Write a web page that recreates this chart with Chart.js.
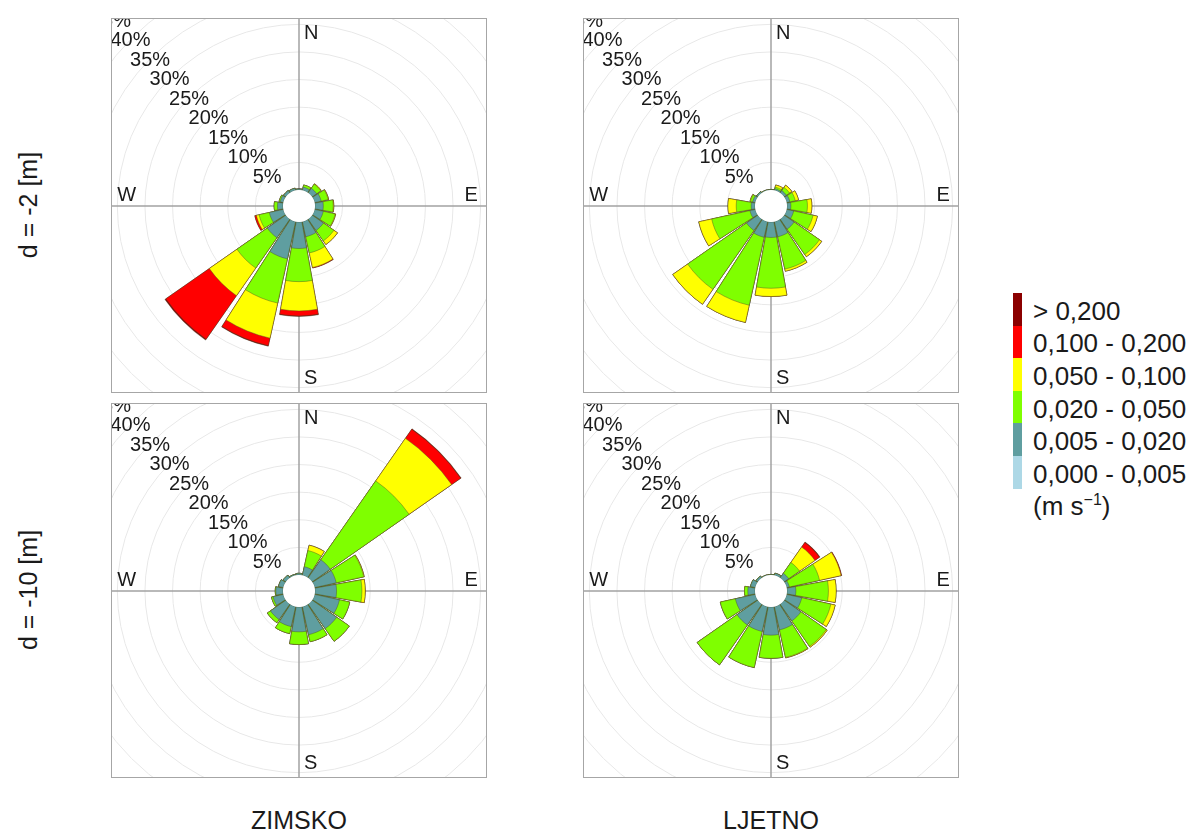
<!DOCTYPE html>
<html>
<head>
<meta charset="utf-8">
<script src="https://cdn.jsdelivr.net/npm/chart.js@4.4.1/dist/chart.umd.min.js"></script>
<style>
  body { margin: 0; background: #fff; font-family: "Liberation Sans", Arial, sans-serif; color: #1a1a1a; }
  #page { position: relative; width: 1195px; height: 837px; overflow: hidden; }
  .panel { position: absolute; width: 374px; height: 373px; border: 1px solid #a6a6a6; overflow: hidden; }
  .panel canvas { position: absolute; left: -83px; top: -83px; }
  .rowlab { position: absolute; width: 200px; height: 30px; line-height: 30px; text-align: center;
            font-size: 25px; transform: rotate(-90deg); }
  .collab { position: absolute; width: 200px; text-align: center; font-size: 25px; top: 806px; }
  #legend { position: absolute; left: 1013px; top: 293px; }
  .leg-row { display: flex; align-items: center; height: 32.6px; }
  .leg-sw { width: 9px; height: 32.6px; }
  .leg-tx { font-size: 26px; margin-left: 11px; white-space: nowrap; position: relative; top: 2px; }
  .leg-unit { font-size: 26px; margin-left: 20px; margin-top: 2px; }
  .leg-unit sup { font-size: 16px; }
</style>
</head>
<body>
<div id="page"></div>
<script>
// smjerovi (16 sektora po 22,5°)
const dirLabels = ["N", "NNE", "NE", "ENE", "E", "ESE", "SE", "SSE", "S", "SSW", "SW", "WSW", "W", "WNW", "NW", "NNW"];

// razredi brzine struje (m s-1) i boje
const speedBins = ["0,000 - 0,005", "0,005 - 0,020", "0,020 - 0,050", "0,050 - 0,100", "0,100 - 0,200", "> 0,200"];
const binColors = ["#add8e6", "#5f9ea0", "#7fff00", "#ffff00", "#ff0000", "#8b0000"];

// krugovi mreže (%)
const ringSteps = [5, 10, 15, 20, 25, 30, 35, 40, 45];

// --- ZIMSKO, d = -2 m (učestalost %, po razredu) ---
const zim2_000_005 = [0, 0, 0, 0, 0, 0, 0, 0, 0, 0, 0, 0, 0, 0, 0, 0];
const zim2_005_020 = [0.2, 0.6, 1.0, 1.2, 1.5, 1.6, 2.5, 2.8, 4.8, 6.9, 4.1, 2.6, 1.0, 0.6, 0.5, 0.4];
const zim2_020_050 = [0, 0.4, 0.9, 1.3, 1.8, 2.2, 2.3, 3.0, 6.0, 8.2, 6.7, 1.9, 0.6, 0.2, 0, 0];
const zim2_050_100 = [0, 0, 0.1, 0.1, 0.1, 0.1, 0.8, 2.7, 5.3, 6.5, 6.1, 0.5, 0, 0, 0, 0];
const zim2_100_200 = [0, 0, 0, 0, 0, 0, 0, 0.1, 0.9, 1.4, 9.6, 0.3, 0, 0, 0, 0];
const zim2_200 = [0, 0, 0, 0, 0, 0, 0, 0, 0.1, 0.1, 0.2, 0, 0, 0, 0, 0];

// --- LJETNO, d = -2 m ---
const ljet2_000_005 = [0, 0, 0, 0, 0, 0, 0, 0, 0, 0, 0, 0, 0, 0, 0, 0];
const ljet2_005_020 = [0.1, 0.3, 0.5, 0.6, 0.7, 1.3, 2.2, 2.8, 2.8, 2.9, 2.5, 1.0, 0.7, 0.5, 0.3, 0.1];
const ljet2_020_050 = [0, 0.3, 0.7, 1.0, 3.0, 3.6, 5.6, 6.0, 9.2, 12.6, 13.0, 7.1, 2.7, 0.4, 0, 0];
const ljet2_050_100 = [0, 0.4, 0.5, 0.6, 0.8, 0.8, 0.5, 0.4, 1.5, 3.2, 3.3, 2.4, 1.5, 0.1, 0, 0];
const ljet2_100_200 = [0, 0, 0, 0, 0, 0, 0, 0, 0, 0, 0, 0, 0, 0, 0, 0];
const ljet2_200 = [0, 0, 0, 0, 0, 0, 0, 0, 0, 0, 0, 0, 0, 0, 0, 0];

// --- ZIMSKO, d = -10 m ---
const zim10_000_005 = [0, 0, 0, 0, 0, 0, 0, 0, 0, 0, 0, 0, 0, 0, 0, 0];
const zim10_005_020 = [0.3, 1.6, 4.0, 4.0, 3.9, 4.6, 5.4, 5.2, 4.5, 3.7, 3.4, 1.9, 1.3, 0.9, 0.6, 0.2];
const zim10_020_050 = [0, 3.0, 17.4, 5.1, 4.6, 1.9, 2.8, 1.3, 2.3, 1.3, 0.7, 0.3, 0.1, 0, 0, 0];
const zim10_050_100 = [0, 1.0, 9.4, 0.1, 0.6, 0, 0, 0, 0, 0, 0, 0, 0, 0, 0, 0];
const zim10_100_200 = [0, 0, 2.0, 0, 0, 0, 0, 0, 0, 0, 0, 0, 0, 0, 0, 0];
const zim10_200 = [0, 0, 0.1, 0, 0, 0, 0, 0, 0, 0, 0, 0, 0, 0, 0, 0];

// --- LJETNO, d = -10 m ---
const ljet10_000_005 = [0, 0, 0, 0, 0, 0, 0, 0, 0, 0, 0, 0, 0, 0, 0, 0];
const ljet10_005_020 = [0.1, 0.4, 1.0, 0.5, 1.6, 2.8, 3.7, 4.3, 5.1, 4.6, 4.6, 3.7, 1.3, 0.9, 0.4, 0.1];
const ljet10_020_050 = [0, 0, 2.4, 5.6, 5.9, 5.4, 5.6, 5.1, 4.2, 6.7, 8.8, 2.8, 0.6, 0, 0, 0];
const ljet10_050_100 = [0, 0, 3.4, 4.0, 1.4, 0.8, 0.2, 0.1, 0, 0, 0, 0, 0, 0, 0, 0];
const ljet10_100_200 = [0, 0, 1.0, 0.1, 0, 0, 0, 0, 0, 0, 0, 0, 0, 0, 0, 0];
const ljet10_200 = [0, 0, 0.1, 0, 0, 0, 0, 0, 0, 0, 0, 0, 0, 0, 0, 0];

const panels = [
  { left: 111, top: 18, bins: [zim2_000_005, zim2_005_020, zim2_020_050, zim2_050_100, zim2_100_200, zim2_200] },
  { left: 583, top: 18, bins: [ljet2_000_005, ljet2_005_020, ljet2_020_050, ljet2_050_100, ljet2_100_200, ljet2_200] },
  { left: 111, top: 403, bins: [zim10_000_005, zim10_005_020, zim10_020_050, zim10_050_100, zim10_100_200, zim10_200] },
  { left: 583, top: 403, bins: [ljet10_000_005, ljet10_005_020, ljet10_020_050, ljet10_050_100, ljet10_100_200, ljet10_200] },
];

// ljestvica: rupa u sredini + 46 % do ruba platna
const rMin = -2.9;
const rMax = 46;
const sectorDeg = 20.25;
const gapDeg = 22.5 - sectorDeg;
const compassPct = 28.3;

const page = document.getElementById("page");

const roseDecor = {
  id: "roseDecor",
  beforeDatasetsDraw(chart) {
    const s = chart.scales.r;
    const ctx = chart.ctx;
    ctx.save();
    ctx.strokeStyle = "#a3a3a3";
    ctx.lineWidth = 1.5;
    ctx.beginPath();
    ctx.moveTo(0, s.yCenter);
    ctx.lineTo(chart.width, s.yCenter);
    ctx.moveTo(s.xCenter, 0);
    ctx.lineTo(s.xCenter, chart.height);
    ctx.stroke();
    ctx.restore();
  },
  afterDatasetsDraw(chart) {
    const s = chart.scales.r;
    const ctx = chart.ctx;
    ctx.save();
    // rupa u sredini
    ctx.fillStyle = "#fff";
    ctx.beginPath();
    ctx.arc(s.xCenter, s.yCenter, s.getDistanceFromCenterForValue(0), 0, Math.PI * 2);
    ctx.fill();
    // oznake postotaka po dijagonali
    ctx.fillStyle = "#1a1a1a";
    ctx.font = '20px "Liberation Sans", Arial, sans-serif';
    ctx.textAlign = "center";
    ctx.textBaseline = "middle";
    ringSteps.forEach((v) => {
      const d = s.getDistanceFromCenterForValue(v) * Math.SQRT1_2;
      ctx.fillText(v + "%", s.xCenter - d - 1, s.yCenter - d + 2);
    });
    // strane svijeta
    const d = s.getDistanceFromCenterForValue(compassPct);
    ctx.textAlign = "left";
    ctx.fillText("N", s.xCenter + 5, s.yCenter - d);
    ctx.fillText("S", s.xCenter + 5, s.yCenter + d);
    ctx.textAlign = "center";
    ctx.fillText("W", s.xCenter - d, s.yCenter - 11);
    ctx.fillText("E", s.xCenter + d, s.yCenter - 11);
    ctx.restore();
  },
};

function buildRose(p) {
  const box = document.createElement("div");
  box.className = "panel";
  box.style.left = p.left + "px";
  box.style.top = p.top + "px";
  const cv = document.createElement("canvas");
  cv.width = 540;
  cv.height = 540;
  box.appendChild(cv);
  page.appendChild(box);

  // kumulativne vrijednosti, sektor + mali razmak
  const labels = [];
  dirLabels.forEach((d) => labels.push(d, ""));
  let run = dirLabels.map(() => 0);
  const datasets = p.bins.map((arr, b) => {
    run = run.map((v, i) => v + arr[i]);
    const data = [];
    run.forEach((v) => data.push(v, rMin));
    return {
      label: speedBins[b],
      data: data,
      backgroundColor: binColors[b],
      borderColor: "rgba(70,70,40,0.6)",
      borderWidth: (c) => (c.dataIndex % 2 ? 0 : 0.7),
      angle: (c) => (c.dataIndex % 2 ? gapDeg : sectorDeg),
    };
  });

  new Chart(cv, {
    type: "polarArea",
    data: { labels: labels, datasets: datasets },
    options: {
      responsive: false,
      animation: false,
      events: [],
      layout: { padding: 0 },
      plugins: { legend: { display: false }, tooltip: { enabled: false } },
      scales: {
        r: {
          min: rMin,
          max: rMax,
          startAngle: -sectorDeg / 2,
          afterBuildTicks: (s) => {
            s.ticks = ringSteps.map((v) => ({ value: v }));
          },
          ticks: { display: false },
          grid: { color: "#e8e8e8", lineWidth: 1 },
          angleLines: { display: false },
          pointLabels: { display: false },
        },
      },
    },
    plugins: [roseDecor],
  });
}

panels.forEach(buildRose);

// oznake redaka i stupaca
[["d = -2 [m]", 205], ["d = -10 [m]", 590]].forEach(([t, y]) => {
  const el = document.createElement("div");
  el.className = "rowlab";
  el.textContent = t;
  el.style.left = 28 - 100 + "px";
  el.style.top = y - 15 + "px";
  page.appendChild(el);
});
[["ZIMSKO", 299], ["LJETNO", 771]].forEach(([t, x]) => {
  const el = document.createElement("div");
  el.className = "collab";
  el.textContent = t;
  el.style.left = x - 100 + "px";
  page.appendChild(el);
});

// legenda (od najveće brzine prema najmanjoj)
const leg = document.createElement("div");
leg.id = "legend";
for (let b = speedBins.length - 1; b >= 0; b--) {
  const row = document.createElement("div");
  row.className = "leg-row";
  row.innerHTML = `<div class="leg-sw" style="background:${binColors[b]}"></div><div class="leg-tx">${speedBins[b]}</div>`;
  leg.appendChild(row);
}
const unit = document.createElement("div");
unit.className = "leg-unit";
unit.innerHTML = "(m s<sup>−1</sup>)";
leg.appendChild(unit);
page.appendChild(leg);
</script>
</body>
</html>
